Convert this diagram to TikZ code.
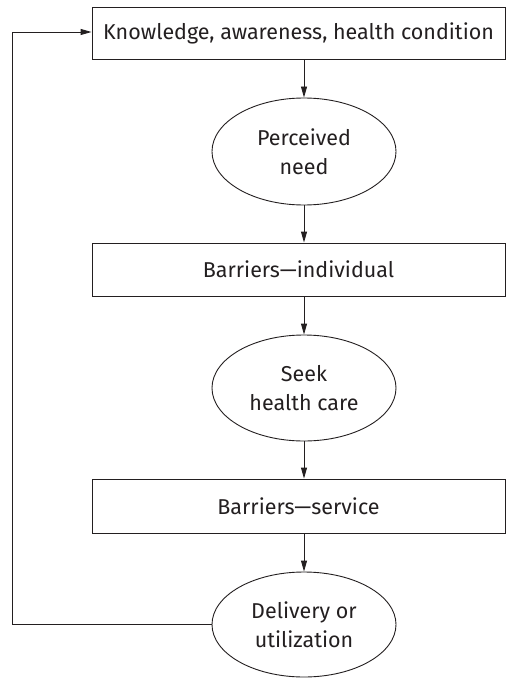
\documentclass[tikz,border=0pt]{standalone}
\usepackage{fontspec}
\setmainfont{Fira Sans}
\usetikzlibrary{shapes.geometric,arrows.meta}
\definecolor{ink}{HTML}{231F20}
\begin{document}
\begin{tikzpicture}[x=1pt,y=-1pt,
  every node/.style={font=\fontsize{21.5}{28.5}\selectfont, text=ink},
  boxnode/.style={draw=ink, line width=0.9pt, rectangle, minimum width=413pt, inner sep=0pt, align=center},
  ellnode/.style={draw=ink, line width=0.9pt, ellipse, minimum width=184pt, inner sep=0pt, align=center},
  conn/.style={draw=ink, line width=0.9pt, -{Triangle[length=11pt,width=6pt]}}]
\useasboundingbox (0,0) rectangle (507,679);
\node[boxnode, minimum height=52pt] (b1) at (298.5,33) {Knowledge, awareness, health condition};
\node[ellnode, minimum height=107pt] (e1) at (304,151.5) {Perceived\\need};
\node[boxnode, minimum height=53pt] (b2) at (298.5,269.5) {Barriers—individual};
\node[ellnode, minimum height=106pt] (e2) at (304,388) {Seek\\health care};
\node[boxnode, minimum height=54pt] (b3) at (298.5,506) {Barriers—service};
\node[ellnode, minimum height=105pt] (e3) at (304,624.5) {Delivery or\\utilization};
\coordinate (c1) at (12,624.5);
\coordinate (c2) at (12,32);
\draw[conn] (b1.south -| e1.north) -- (e1.north);
\draw[conn] (e1.south) -- (b2.north -| e1.south);
\draw[conn] (b2.south -| e2.north) -- (e2.north);
\draw[conn] (e2.south) -- (b3.north -| e2.south);
\draw[conn] (b3.south -| e3.north) -- (e3.north);
\draw[conn] (e3.west) -- (c1) -- (c2) -- (c2 -| b1.west);
\end{tikzpicture}
\end{document}
